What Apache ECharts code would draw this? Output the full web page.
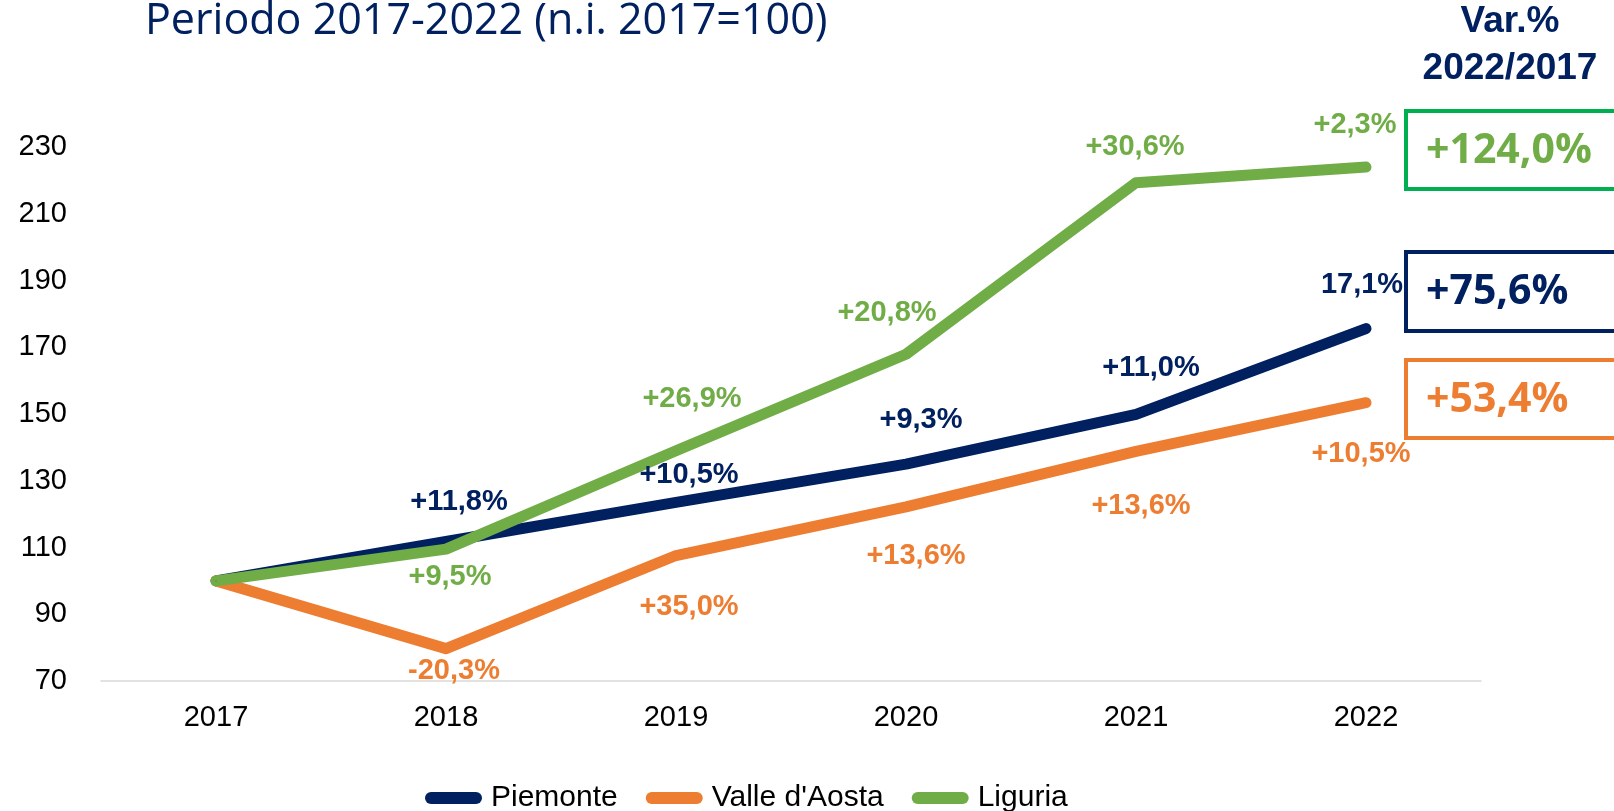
<!DOCTYPE html>
<html>
<head>
<meta charset="utf-8">
<script src="https://cdn.jsdelivr.net/npm/echarts@6/dist/echarts.min.js"></script>
<style>
html, body { margin: 0; padding: 0; background: #fff; }
#chart { width: 1614px; height: 811px; }
</style>
</head>
<body>
<div id="chart"></div>
<script>
// dati
var anni = ['2017', '2018', '2019', '2020', '2021', '2022'];
var piemonte = [100, 111.8, 123.5, 135.0, 149.9, 175.6];
var valleAosta = [100, 79.7, 107.6, 122.2, 138.8, 153.4];
var liguria = [100, 109.5, 139.0, 167.9, 219.3, 224.0];

var etichettePiemonte = ['', '+11,8%', '+10,5%', '+9,3%', '+11,0%', '17,1%'];
var etichetteValle = ['', '-20,3%', '+35,0%', '+13,6%', '+13,6%', '+10,5%'];
var etichetteLiguria = ['', '+9,5%', '+26,9%', '+20,8%', '+30,6%', '+2,3%'];

var varTotali = ['+124,0%', '+75,6%', '+53,4%'];
var yTicks = { min: 70, max: 230, step: 20 };

// spostamento etichette (px) rispetto al punto
var offPiemonte = [[0, 0], [13, -39], [13, -27], [15, -44], [15, -46], [-4, -44]];
var offValle = [[0, 0], [8, 22], [13, 51], [10, 49], [5, 55], [-5, 51]];
var offLiguria = [[0, 0], [4, 28], [16, -52], [-19, -41], [-1, -36], [-11, -42]];

var NAVY = '#002060', ORANGE = '#ED7D31', GREEN = '#70AD47';

var myChart = echarts.init(document.getElementById('chart'));

function serie(nome, valori, etichette, offsets, colore) {
    return {
        name: nome,
        type: 'line',
        data: valori.map(function (v, i) {
            return { value: v, label: { offset: offsets[i] } };
        }),
        symbol: 'circle',
        symbolSize: 1,
        showSymbol: true,
        itemStyle: { color: colore },
        lineStyle: { color: colore, width: 11, cap: 'round', join: 'round' },
        label: {
            show: true,
            position: 'inside',
            fontFamily: 'Liberation Sans, Arial, sans-serif',
            fontWeight: 'bold',
            fontSize: 29,
            color: colore,
            formatter: function (p) { return etichette[p.dataIndex]; }
        },
        emphasis: { disabled: true }
    };
}

var option = {
    animation: false,
    color: [NAVY, ORANGE, GREEN],
    grid: { left: 101, right: 133, top: 147, bottom: 130 },
    legend: {
        left: 420,
        top: 778,
        itemWidth: 57,
        itemHeight: 12,
        itemGap: 28,
        icon: 'path://M6,0 H51 A6,6 0 0 1 51,12 H6 A6,6 0 0 1 6,0 Z',
        textStyle: {
            fontFamily: 'Liberation Sans, Arial, sans-serif',
            fontSize: 30,
            color: '#000',
            padding: [0, 0, 0, 4]
        },
        data: ['Piemonte', "Valle d'Aosta", 'Liguria']
    },
    xAxis: {
        type: 'category',
        boundaryGap: true,
        data: anni,
        axisTick: { show: false },
        axisLine: { lineStyle: { color: '#D9D9D9', width: 1.5 } },
        axisLabel: {
            margin: 22,
            fontFamily: 'Liberation Sans, Arial, sans-serif',
            fontSize: 29,
            color: '#000'
        }
    },
    yAxis: {
        type: 'value',
        min: yTicks.min,
        max: yTicks.max,
        interval: yTicks.step,
        splitLine: { show: false },
        axisLine: { show: false },
        axisTick: { show: false },
        axisLabel: {
            margin: 34,
            fontFamily: 'Liberation Sans, Arial, sans-serif',
            fontSize: 29,
            color: '#000'
        }
    },
    graphic: [
        {
            type: 'text', left: 145, top: 0,
            style: { text: 'Periodo 2017-2022 (n.i. 2017=100)', fill: NAVY,
                font: '43px "Open Sans", sans-serif' }
        },
        {
            type: 'text', x: 1510, y: 22,
            style: { text: 'Var.%', fill: NAVY, align: 'center', verticalAlign: 'middle',
                font: 'bold 37px "Liberation Sans", Arial, sans-serif' }
        },
        {
            type: 'text', x: 1510, y: 69,
            style: { text: '2022/2017', fill: NAVY, align: 'center', verticalAlign: 'middle',
                font: 'bold 37px "Liberation Sans", Arial, sans-serif' }
        },
        {
            type: 'rect', shape: { x: 1406, y: 111, width: 240, height: 78 },
            style: { fill: 'none', stroke: '#00B050', lineWidth: 4 }
        },
        {
            type: 'rect', shape: { x: 1406, y: 252, width: 240, height: 79 },
            style: { fill: 'none', stroke: NAVY, lineWidth: 4 }
        },
        {
            type: 'rect', shape: { x: 1406, y: 360, width: 240, height: 78 },
            style: { fill: 'none', stroke: ORANGE, lineWidth: 4 }
        },
        {
            type: 'text', x: 1426, y: 151,
            style: { text: varTotali[0], fill: GREEN, verticalAlign: 'middle',
                font: 'bold 41px "Open Sans", sans-serif' }
        },
        {
            type: 'text', x: 1426, y: 292,
            style: { text: varTotali[1], fill: NAVY, verticalAlign: 'middle',
                font: 'bold 41px "Open Sans", sans-serif' }
        },
        {
            type: 'text', x: 1426, y: 400,
            style: { text: varTotali[2], fill: ORANGE, verticalAlign: 'middle',
                font: 'bold 41px "Open Sans", sans-serif' }
        }
    ],
    series: [
        serie('Piemonte', piemonte, etichettePiemonte, offPiemonte, NAVY),
        serie("Valle d'Aosta", valleAosta, etichetteValle, offValle, ORANGE),
        serie('Liguria', liguria, etichetteLiguria, offLiguria, GREEN)
    ]
};

myChart.setOption(option);
</script>
</body>
</html>
